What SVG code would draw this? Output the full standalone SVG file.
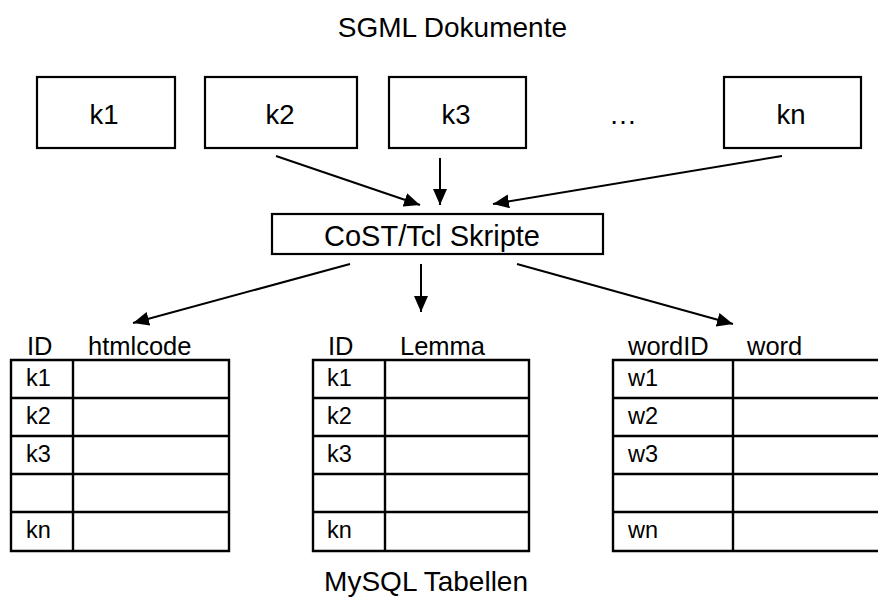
<svg xmlns="http://www.w3.org/2000/svg" width="878" height="599" viewBox="0 0 878 599">
<defs>
<marker id="ah" markerUnits="userSpaceOnUse" markerWidth="18" markerHeight="14" refX="16" refY="7" orient="auto">
<path d="M0,0 L16,7 L0,14 Z" fill="#000"/>
</marker>
<style>
text{font-family:"Liberation Sans",Arial,sans-serif;fill:#000}
.box{fill:#fff;stroke:#000;stroke-width:2.2}
.lbl{font-size:27.5px;text-anchor:middle}
.cap{font-size:28px;text-anchor:end}
.hd{font-size:25.5px}
.cell{font-size:23.5px}
.conn line{stroke:#000;stroke-width:2;marker-end:url(#ah)}
.grid{stroke:#000;stroke-width:2.4;fill:none}
</style>
</defs>
<rect width="878" height="599" fill="#fff"/>
<text class="cap" x="567" y="37">SGML Dokumente</text>
<g id="k1"><rect class="box" x="37" y="77" width="138" height="71"/><text class="lbl" x="104" y="124">k1</text></g>
<g id="k2"><rect class="box" x="205" y="77" width="152" height="71"/><text class="lbl" x="280" y="124">k2</text></g>
<g id="k3"><rect class="box" x="389" y="77" width="137" height="71"/><text class="lbl" x="456" y="124">k3</text></g>
<g id="dots"><text x="609" y="124" style="font-size:28px">…</text></g>
<g id="kn"><rect class="box" x="724" y="77" width="137" height="71"/><text class="lbl" x="791" y="124">kn</text></g>
<g id="cost"><rect class="box" x="272" y="214" width="331" height="40"/><text class="lbl" x="432" y="246" style="font-size:29px">CoST/Tcl Skripte</text></g>
<g class="conn" id="connectors">
<line x1="276" y1="156" x2="420" y2="205"/>
<line x1="440" y1="158" x2="440" y2="205"/>
<line x1="782" y1="156" x2="493" y2="204"/>
<line x1="350" y1="264" x2="133" y2="323"/>
<line x1="421" y1="264" x2="421" y2="312"/>
<line x1="517" y1="264" x2="733" y2="324"/>
</g>
<g id="table-html">
<text class="hd" x="27" y="355">ID</text><text class="hd" x="88" y="355">htmlcode</text>
<path class="grid" d="M11,360H229V551H11Z M73,360V551 M11,398H229 M11,436H229 M11,474H229 M11,512H229"/>
<text class="cell" x="26" y="386">k1</text><text class="cell" x="26" y="424">k2</text><text class="cell" x="26" y="462">k3</text><text class="cell" x="26" y="538">kn</text>
</g>
<g id="table-lemma">
<text class="hd" x="328" y="355">ID</text><text class="hd" x="400" y="355">Lemma</text>
<path class="grid" d="M313,360H529V551H313Z M385,360V551 M313,398H529 M313,436H529 M313,474H529 M313,512H529"/>
<text class="cell" x="327" y="386">k1</text><text class="cell" x="327" y="424">k2</text><text class="cell" x="327" y="462">k3</text><text class="cell" x="327" y="538">kn</text>
</g>
<g id="table-word">
<text class="hd" x="628" y="355">wordID</text><text class="hd" x="747" y="355">word</text>
<path class="grid" d="M882,360H613V551H882 M733,360V551 M613,398H882 M613,436H882 M613,474H882 M613,512H882"/>
<text class="cell" x="628" y="386">w1</text><text class="cell" x="628" y="424">w2</text><text class="cell" x="628" y="462">w3</text><text class="cell" x="628" y="538">wn</text>
</g>
<text class="cap" x="528" y="591">MySQL Tabellen</text>
</svg>
